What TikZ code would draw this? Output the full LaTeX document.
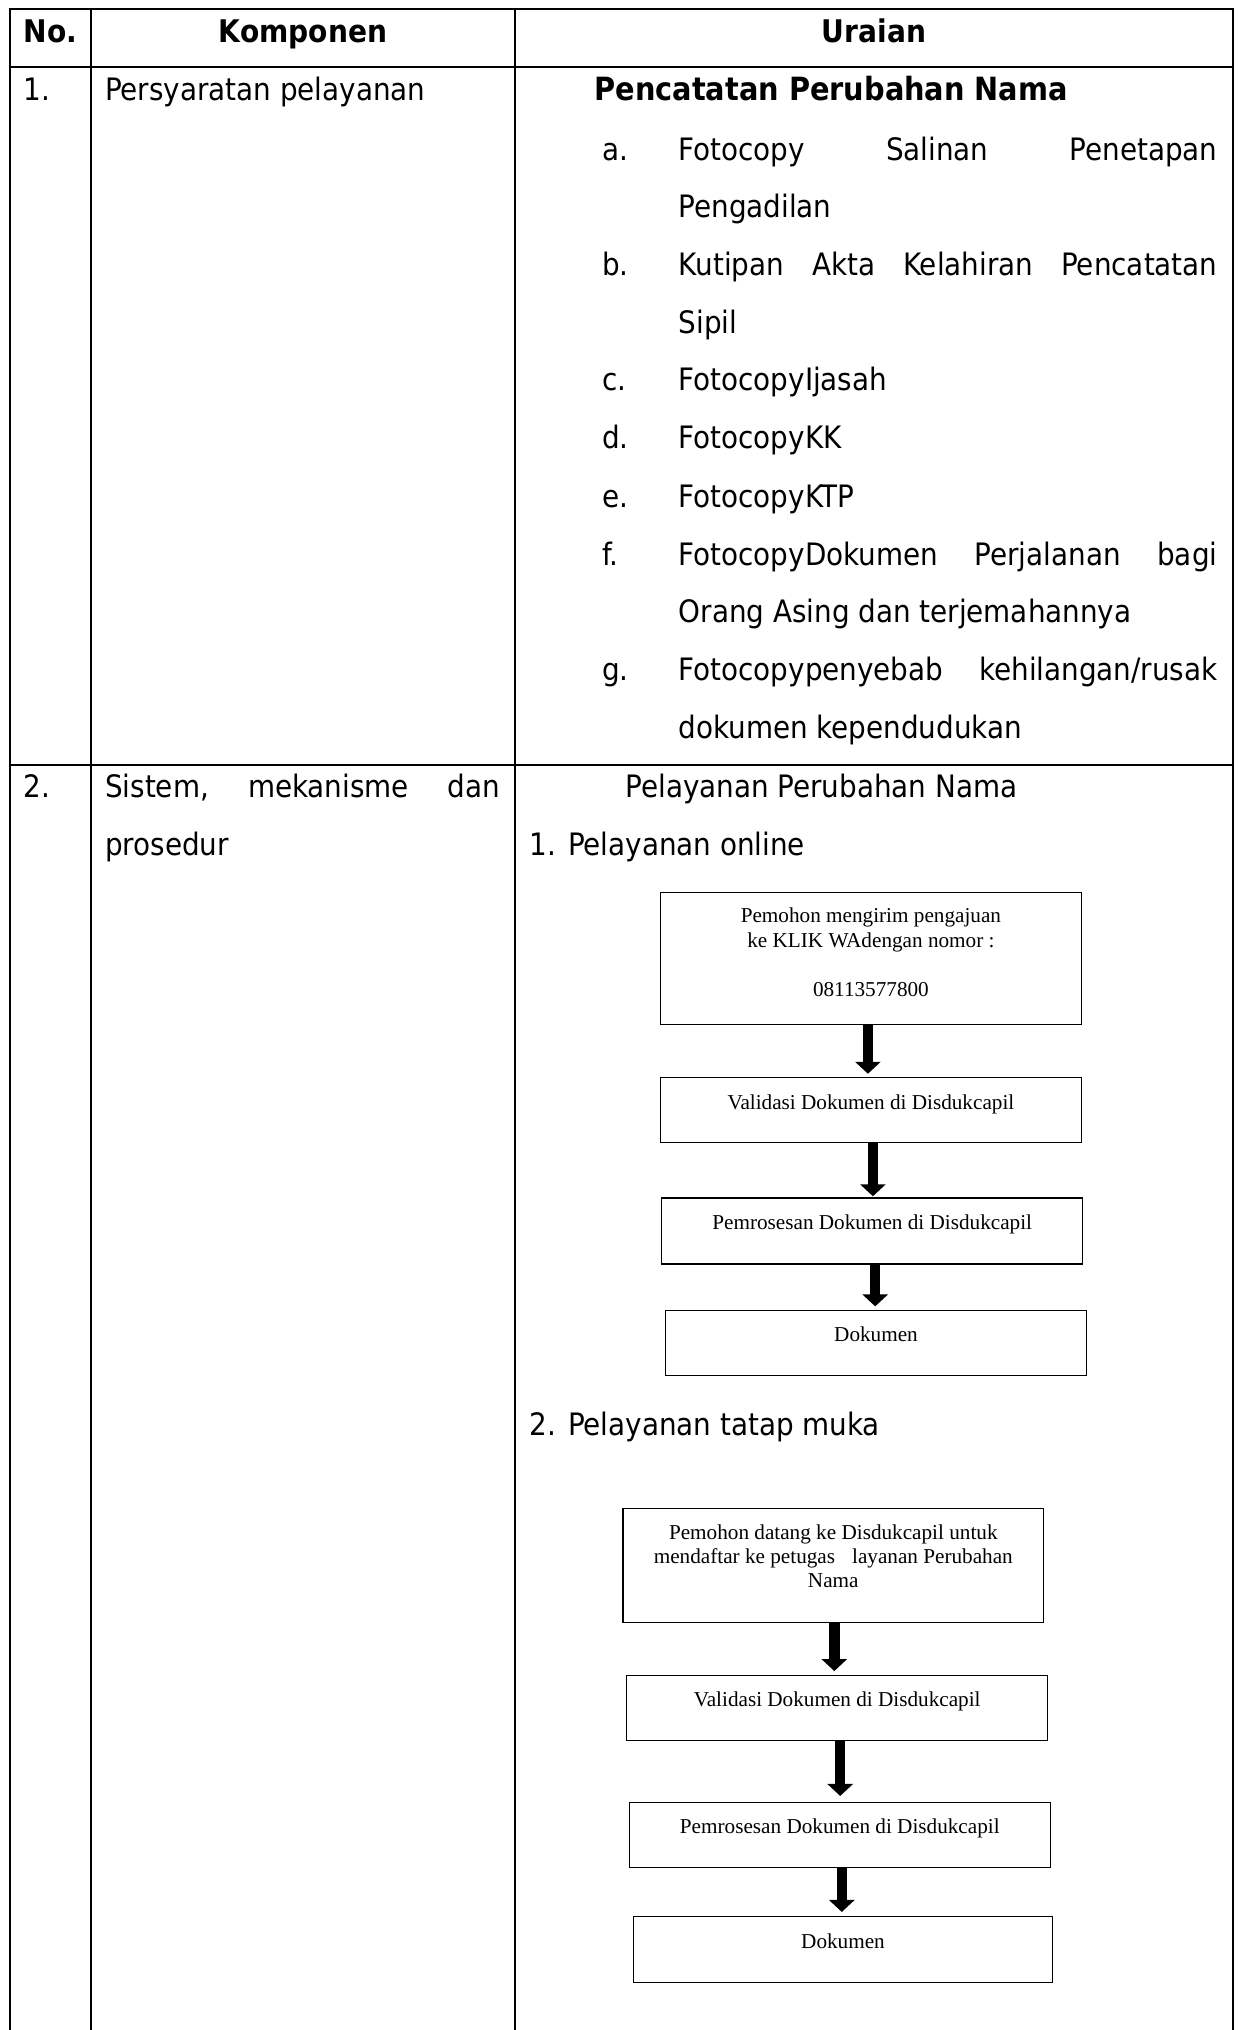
\documentclass[tikz,border=0pt]{standalone}
\usepackage{fontspec}
\usetikzlibrary{arrows.meta}
\setmainfont{DejaVu Sans Condensed}
\newfontfamily\tnr{Liberation Serif}
\tikzset{
  grid/.style={line width=2pt, line cap=rect},
  body/.style={inner sep=0pt, anchor=base west, font=\fontsize{30.9}{36}\selectfont},
  bodyb/.style={inner sep=0pt, anchor=base, font=\fontsize{31.2}{36}\selectfont\bfseries},
  just/.style={body, text width=#1, align=justify},
  box/.style={draw, line width=1.3pt, inner sep=0pt},
  btext/.style={inner sep=0pt, anchor=base, font=\tnr\fontsize{21.2}{24.6}\selectfont},
  blockarrow/.style={line width=10.5pt, -{Triangle[length=12pt,width=25pt]}},
}
\begin{document}
\begin{tikzpicture}[x=1pt,y=-1pt]
\useasboundingbox (0,0) rectangle (1238,2030);
% table grid
\draw[grid] (10,9) -- (1233,9);
\draw[grid] (10,67) -- (1233,67);
\draw[grid] (10,765) -- (1233,765);
\draw[grid] (10,9) -- (10,2030);
\draw[grid] (91,9) -- (91,2030);
\draw[grid] (515,9) -- (515,2030);
\draw[grid] (1233,9) -- (1233,2030);
% header
\node[bodyb] (h0) at (50.5,42) {No.};
\node[bodyb] (h1) at (303,42) {Komponen};
\node[bodyb] (h2) at (874,42) {Uraian};
% row 1
\node[body] (n1) at (23.3,100) {1.};
\node[body] (k1) at (105,100) {Persyaratan pelayanan};
\node[body, font=\fontsize{32}{36}\selectfont\bfseries] (u0) at (594.4,100) {Pencatatan Perubahan Nama};
\node[body] (la) at (602,160) {a.};
\node[just=538.7pt] (ia1) at (678.6,160) {Fotocopy\hfill Salinan\hfill Penetapan};
\node[body] (ia2) at (678.6,217) {Pengadilan};
\node[body] (lb) at (602,275) {b.};
\node[just=538.7pt] (ib1) at (678.6,275) {Kutipan\hfill Akta\hfill Kelahiran\hfill Pencatatan};
\node[body] (ib2) at (678.6,333.5) {Sipil};
\node[body] (lc) at (602,390.5) {c.};
\node[body] (ic) at (678.6,390.5) {FotocopyIjasah};
\node[body] (ld) at (602,448.7) {d.};
\node[body] (id) at (678.6,448.7) {FotocopyKK};
\node[body] (le) at (602,507) {e.};
\node[body] (ie) at (678.6,507) {FotocopyKTP};
\node[body] (lf) at (602,565.3) {f.};
\node[just=538.7pt] (if1) at (678.6,565.3) {FotocopyDokumen\hfill Perjalanan\hfill bagi};
\node[body] (if2) at (678.6,622.2) {Orang Asing dan terjemahannya};
\node[body] (lg) at (602,680.5) {g.};
\node[just=538.7pt] (ig1) at (678.6,680.5) {Fotocopypenyebab\hfill kehilangan/rusak};
\node[body] (ig2) at (678.6,738.8) {dokumen kependudukan};
% row 2
\node[body] (n2) at (23.3,797) {2.};
\node[just=395pt] (k2a) at (105,797) {Sistem,\hfill mekanisme\hfill dan};
\node[body] (k2b) at (105,855.3) {prosedur};
\node[body] (p0) at (625.5,797) {Pelayanan Perubahan Nama};
\node[body] (p1) at (529.7,855.3) {1. Pelayanan online};
\node[body] (p2) at (529.7,1435.5) {2. Pelayanan tatap muka};
% flow 1
\node[box, minimum width=420.8pt, minimum height=132pt] (b1) at (870.9,958.3) {};
\node[btext] (t1a) at (b1.north |- 0,922.6) {Pemohon mengirim pengajuan};
\node[btext] (t1b) at (b1.north |- 0,947.2) {ke KLIK WAdengan nomor :};
\node[btext] (t1c) at (b1.north |- 0,996.4) {08113577800};
\node[box, minimum width=420.8pt, minimum height=64.8pt] (b2) at (870.9,1109.8) {};
\node[btext] (t2) at (b2.north |- 0,1109) {Validasi Dokumen di Disdukcapil};
\node[box, minimum width=420.9pt, minimum height=66pt] (b3) at (872.2,1230.9) {};
\node[btext] (t3) at (b3.north |- 0,1229.5) {Pemrosesan Dokumen di Disdukcapil};
\node[box, minimum width=420.9pt, minimum height=64.8pt] (b4) at (876,1342.9) {};
\node[btext] (t4) at (b4.north |- 0,1341) {Dokumen};
% flow 2
\node[box, minimum width=420.9pt, minimum height=113.9pt] (b5) at (833.3,1565.6) {};
\node[btext] (t5a) at (b5.north |- 0,1539) {Pemohon datang ke Disdukcapil untuk};
\node[btext] (t5b) at (b5.north |- 0,1563.6) {mendaftar ke petugas\hspace{17pt}layanan Perubahan};
\node[btext] (t5c) at (b5.north |- 0,1587) {Nama};
\node[box, minimum width=420.9pt, minimum height=64.8pt] (b6) at (837.2,1708.1) {};
\node[btext] (t6) at (b6.north |- 0,1706) {Validasi Dokumen di Disdukcapil};
\node[box, minimum width=420.8pt, minimum height=64.8pt] (b7) at (839.8,1835) {};
\node[btext] (t7) at (b7.north |- 0,1833) {Pemrosesan Dokumen di Disdukcapil};
\node[box, minimum width=419.5pt, minimum height=66pt] (b8) at (843,1949.6) {};
\node[btext] (t8) at (b8.north |- 0,1948) {Dokumen};
% arrows
\coordinate (a1) at ([xshift=-3pt]b1.south);
\coordinate (a2) at ([xshift=2pt]b2.south);
\coordinate (a3) at ([xshift=3pt]b3.south);
\coordinate (a4) at ([xshift=1pt]b5.south);
\coordinate (a5) at ([xshift=3pt]b6.south);
\coordinate (a6) at ([xshift=2pt]b7.south);
\draw[blockarrow] (a1) -- ([yshift=3pt]a1 |- b2.north);
\draw[blockarrow] (a2) -- ([yshift=1pt]a2 |- b3.north);
\draw[blockarrow] (a3) -- ([yshift=3.5pt]a3 |- b4.north);
\draw[blockarrow] (a4) -- ([yshift=4pt]a4 |- b6.north);
\draw[blockarrow] (a5) -- ([yshift=6pt]a5 |- b7.north);
\draw[blockarrow] (a6) -- ([yshift=4pt]a6 |- b8.north);
\end{tikzpicture}
\end{document}
